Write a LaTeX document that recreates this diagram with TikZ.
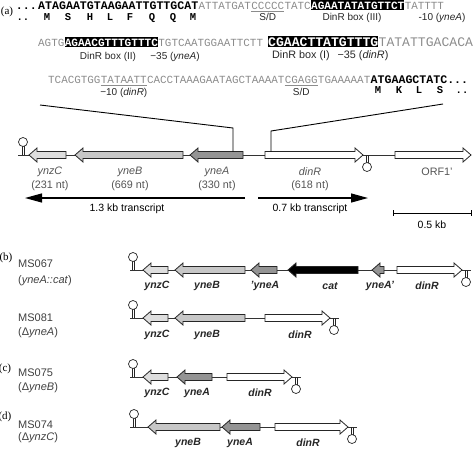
\documentclass[tikz,border=0pt]{standalone}
\usepackage{fontspec}
\setmainfont{Liberation Sans}
\newfontfamily\seqfont{Liberation Mono}
\newfontfamily\panfont{Liberation Serif}
\usetikzlibrary{arrows.meta}
\definecolor{seqgray}{gray}{0.55}
\definecolor{gz}{gray}{0.87}
\definecolor{gb}{gray}{0.78}
\definecolor{ga}{gray}{0.58}
\definecolor{txtgray}{gray}{0.33}
\newcommand\genearr[4]{%
  \pgfmathsetmacro\gh{8*sign(#1-#2)}%
  \draw[genest, fill=#4] (#2,#3) -- ({#2+\gh},{#3-7}) -- ({#2+\gh},{#3-3.5}) -- (#1,{#3-3.5}) -- (#1,{#3+3.5}) -- ({#2+\gh},{#3+3.5}) -- ({#2+\gh},{#3+7}) -- cycle;}
\newcommand\termup[2]{%
  \draw[termst] ({#1-1},{#2}) -- ({#1-1},{#2-8.6}) ({#1+1},{#2}) -- ({#1+1},{#2-8.6});
  \draw[termst, fill=white] (#1,{#2-13}) circle[radius=4.5];}
\newcommand\termdown[2]{%
  \draw[termst] ({#1-1},{#2}) -- ({#1-1},{#2+7.6}) ({#1+1},{#2}) -- ({#1+1},{#2+7.6});
  \draw[termst, fill=white] (#1,{#2+12}) circle[radius=4.5];}
\begin{document}
\begin{tikzpicture}[x=1pt,y=-1pt,
  sq/.style={inner sep=0pt, anchor=base west, text=seqgray, font=\seqfont\fontsize{10.9}{12}\selectfont},
  sqb/.style={inner sep=0pt, anchor=base west, text=black, font=\seqfont\bfseries\fontsize{11.6}{12}\selectfont},
  sqbox/.style={inner xsep=0pt, inner ysep=1.3pt, anchor=base west, fill=black, text=white, font=\seqfont\bfseries\fontsize{11.1}{12}\selectfont},
  sqL/.style={sq, font=\seqfont\fontsize{13.1}{14}\selectfont},
  sqboxL/.style={sqbox, font=\seqfont\bfseries\fontsize{13.1}{14}\selectfont},
  lab/.style={inner sep=0pt, anchor=base, text=black!85, font=\fontsize{10}{12}\selectfont},
  labL/.style={lab, font=\fontsize{10.8}{12}\selectfont},
  aa/.style={inner sep=0pt, anchor=base, font=\seqfont\bfseries\fontsize{10.5}{12}\selectfont},
  uline/.style={draw=seqgray, line width=0.6pt},
  genest/.style={draw=black!85, line width=0.8pt, line join=miter},
  termst/.style={draw=black!85, line width=0.7pt},
  conn/.style={draw=black!80, line width=0.8pt},
  zoomst/.style={draw=black, line width=0.9pt},
  trans/.style={draw=black, line width=1.2pt, -{Triangle[length=17pt,width=9pt]}},
  glab/.style={inner sep=0pt, text=txtgray, font=\fontsize{10.8}{12}\selectfont},
  mlab/.style={inner sep=0pt, text=black!85, font=\fontsize{10.5}{12}\selectfont\bfseries\itshape},
  strain/.style={inner sep=0pt, anchor=west, text=black!75, font=\fontsize{11}{13}\selectfont},
  pan/.style={inner sep=0pt, font=\panfont\fontsize{11}{13}\selectfont}
]
\useasboundingbox (0,0) rectangle (474,450);

% ---------------- sequence, line 1
\node[pan] (pa) at (7,12) {(a)};
\node[sqb, anchor=base east] (l1dots) at (37,9) {...};
\node[sqb] (l1a) at (38,9) {ATAGAATGTAAGAATTGTTGCAT};
\node[sq] (l1b) at (l1a.base east) {ATTATGAT};
\node[sq] (l1c) at (l1b.base east) {CCCCC};
\node[sq] (l1d) at (l1c.base east) {TATC};
\node[sqbox] (l1e) at (l1d.base east) {AGAATATATGTTCT};
\node[sq] (l1f) at (l1e.base east) {TATTTT};
\draw[uline] ([yshift=-2.2pt]l1c.base west) -- ([yshift=-2.2pt]l1c.base east);
% amino acids
\foreach \xx/\aa in {23/.., 47/M, 68/S, 90/H, 110/L, 130/F, 152/Q, 173/Q, 193/M}
  \node[aa] at (\xx,20) {\aa};
\node[lab] (sd1) at (l1c.base |- 0,20) {S/D};
\node[lab] (box3) at (352,20) {DinR box (III)};
\node[lab] (m10a) at (442,20) {-10 (\textit{yneA})};

% ---------------- sequence, line 3
\node[sq] (l3a) at (38,46) {AGTG};
\node[sqbox] (l3b) at (l3a.base east) {AGAACGTTTGTTTC};
\node[sq] (l3c) at (l3b.base east) {TGTCAATGGAATTCTT};
\node[sqboxL] (l3d) at (268,46) {CGAACTTATGTTTG};
\node[sqL] (l3e) at (l3d.base east) {TATATTGACACA};
\node[lab] (box2) at (108,59) {DinR box (II)};
\node[lab] (m35a) at (175,59) {−35 (\textit{yneA})};
\node[labL] (box1) at (301,58) {DinR box (I)};
\node[labL] (m35d) at (363,58) {−35 (\textit{dinR})};

% ---------------- sequence, line 5
\node[sq] (l5a) at (48,83) {TCACGTGG};
\node[sq] (l5b) at (l5a.base east) {TATAATT};
\node[sq] (l5c) at (l5b.base east) {CACCTAAAGAATAGCTAAAAT};
\node[sq] (l5d) at (l5c.base east) {CGAGG};
\node[sq] (l5e) at (l5d.base east) {TGAAAAAT};
\node[sqb] (l5f) at (l5e.base east) {ATGAAGCTATC...};
\draw[uline] ([yshift=-2.2pt]l5b.base west) -- ([yshift=-2.2pt]l5b.base east);
\draw[uline] ([yshift=-2.2pt]l5d.base west) -- ([yshift=-2.2pt]l5d.base east);
\node[lab] (m10d) at (l5b.base |- 0,95) {−10 (\textit{dinR})};
\node[lab] (sd2) at (l5d.base |- 0,95) {S/D};
\foreach \xx/\aa in {378/M, 399/K, 419/L, 440/S, 462/..}
  \node[aa] at (\xx,93) {\aa};

% ---------------- gene map (a)
\draw[conn] (18,155) -- (395,155);
\termup{23}{155}
\genearr{66}{29}{155}{gz}
\genearr{183}{75}{155}{gb}
\genearr{243}{190}{155}{ga}
\genearr{265}{363}{155}{white}
\termdown{367}{155}
\genearr{395}{471}{155}{white}
% zoom lines
\coordinate (zl1) at (233,151.5);
\coordinate (zl2) at (233,128);
\coordinate (zl3) at (40,105);
\coordinate (zr1) at (271,151.5);
\coordinate (zr2) at (271,131);
\coordinate (zr3) at (443,104);
\draw[zoomst] (zl1) -- (zl2) -- (zl3);
\draw[zoomst] (zr1) -- (zr2) -- (zr3);
% labels
\node[glab] (nz) at (50,172) {\textit{ynzC}};
\node[glab] (nzs) at (50,186) {(231 nt)};
\node[glab] (nb) at (130,172) {\textit{yneB}};
\node[glab] (nbs) at (130,186) {(669 nt)};
\node[glab] (na) at (217,172) {\textit{yneA}};
\node[glab] (nas) at (217,186) {(330 nt)};
\node[glab] (nd) at (310,172) {\textit{dinR}};
\node[glab] (nds) at (310,186) {(618 nt)};
\node[glab] (no) at (437,172) {ORF1’};
% transcripts
\coordinate (t1s) at (245,198);
\coordinate (t1e) at (25,198);
\coordinate (t2s) at (258,198);
\coordinate (t2e) at (368,198);
\draw[trans] (t1s) -- (t1e);
\draw[trans] (t2s) -- (t2e);
\node[inner sep=0pt, font=\fontsize{10.5}{12}\selectfont] (tl1) at (127,209) {1.3 kb transcript};
\node[inner sep=0pt, font=\fontsize{10.5}{12}\selectfont] (tl2) at (310,209) {0.7 kb transcript};
% scale bar
\coordinate (sb1) at (393,213);
\coordinate (sb2) at (471,213);
\draw[line width=0.8pt] (sb1) -- (sb2);
\draw[line width=0.8pt] ([yshift=3pt]sb1) -- ([yshift=-3pt]sb1);
\draw[line width=0.8pt] ([yshift=3pt]sb2) -- ([yshift=-3pt]sb2);
\node[inner sep=0pt, font=\fontsize{10.5}{12}\selectfont] (sbl) at (432,225) {0.5 kb};

% ---------------- (b) MS067
\node[pan] (pb) at (6,258) {(b)};
\node[strain] (s1) at (18,264) {MS067};
\node[strain] (s1b) at (18,281) {(\textit{yneA::cat})};
\draw[conn] (130,270) -- (397,270);
\draw[conn] (462,270) -- (471,270);
\termup{133}{270}
\genearr{168}{143}{270}{gz}
\genearr{245}{175}{270}{gb}
\genearr{277}{251}{270}{ga}
\genearr{358}{288}{270}{black}
\genearr{384}{372}{270}{ga}
\genearr{397}{462}{270}{white}
\termdown{466}{270}
\node[mlab] at (157,286) {ynzC};
\node[mlab] at (207,286) {yneB};
\node[mlab] at (265,286) {’yneA};
\node[mlab] at (330,286) {cat};
\node[mlab] at (380,286) {yneA’};
\node[mlab] at (427,286) {dinR};

% ---------------- MS081
\node[strain] (s2) at (18,318) {MS081};
\node[strain] (s2b) at (18,333) {(Δ\textit{yneA})};
\draw[conn] (130,318) -- (265,318);
\draw[conn] (330,318) -- (339,318);
\termup{133}{318}
\genearr{168}{143}{318}{gz}
\genearr{245}{175}{318}{gb}
\genearr{265}{330}{318}{white}
\termdown{334}{318}
\node[mlab] at (157,335) {ynzC};
\node[mlab] at (207,335) {yneB};
\node[mlab] at (300,335) {dinR};

% ---------------- (c) MS075
\node[pan] (pc) at (5,369) {(c)};
\node[strain] (s3) at (18,373) {MS075};
\node[strain] (s3b) at (18,388) {(Δ\textit{yneB})};
\draw[conn] (130,377) -- (227,377);
\draw[conn] (292,377) -- (301,377);
\termup{133}{377}
\genearr{168}{143}{377}{gz}
\genearr{212}{177}{377}{ga}
\genearr{227}{292}{377}{white}
\termdown{296}{377}
\node[mlab] at (157,393) {ynzC};
\node[mlab] at (197,393) {yneA};
\node[mlab] at (260,393) {dinR};

% ---------------- (d) MS074
\node[pan] (pd) at (5,417) {(d)};
\node[strain] (s4) at (18,425) {MS074};
\node[strain] (s4b) at (18,438) {(Δ\textit{ynzC})};
\draw[conn] (130,427) -- (275,427);
\draw[conn] (348,427) -- (357,427);
\termup{134}{427}
\genearr{220}{148}{427}{gb}
\genearr{260}{222}{427}{ga}
\genearr{275}{348}{427}{white}
\termdown{352}{427}
\node[mlab] at (188,443) {yneB};
\node[mlab] at (240,443) {yneA};
\node[mlab] at (308,443) {dinR};
\end{tikzpicture}
\end{document}
